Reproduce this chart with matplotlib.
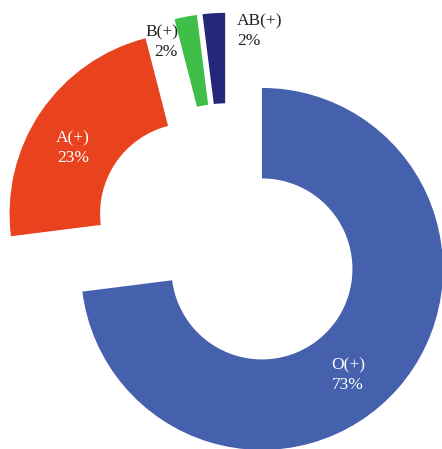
import matplotlib.pyplot as plt

# Blood group distribution
groups = ["O(+)", "A(+)", "B(+)", "AB(+)"]
shares = [73, 23, 2, 2]
colors = ["#4560AC", "#E8421F", "#3FBF47", "#25277A"]

# label placement (data coords) and style per group
label_pos = [(0.663, -0.751), (-0.856, 0.503), (-0.276, 1.088), (0.050, 1.149)]
label_ha = ["center", "center", "right", "left"]
label_col = ["white", "white", "#222222", "#222222"]

fig = plt.figure(figsize=(4.42, 4.49), dpi=100)
ax = fig.add_axes([0, 0, 1, 1])

ax.pie(shares, colors=colors, startangle=90, counterclock=False,
       radius=1.0, explode=[0.25] * len(shares),
       wedgeprops=dict(width=0.5, linewidth=0))

for g, s, (x, y), ha, c in zip(groups, shares, label_pos, label_ha, label_col):
    ax.text(x, y, f"{g}\n{s}%", ha=ha, va="center", color=c,
            fontsize=12.5, family="Liberation Serif", linespacing=1.3,
            multialignment=ha)

ax.set_aspect("equal")
ax.set_xlim(-228 / 181, (442 - 228) / 181)
ax.set_ylim((239 - 449) / 181, 239 / 181)
ax.axis("off")

fig.savefig("out.png", dpi=100)
